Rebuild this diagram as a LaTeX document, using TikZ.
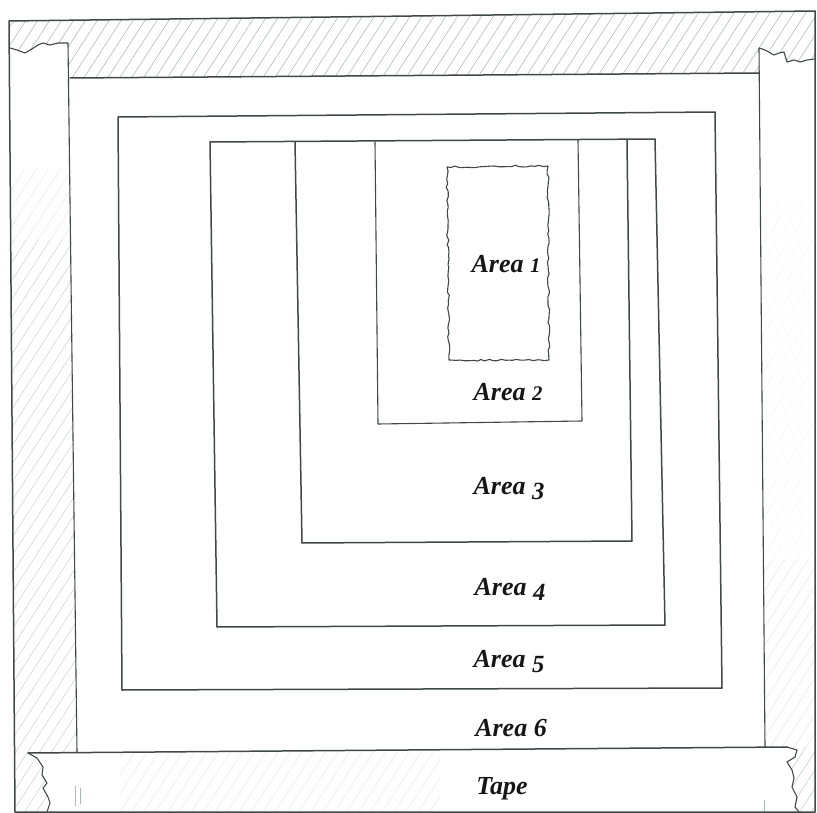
\documentclass[tikz,border=0pt]{standalone}
\usepackage{fontspec}
\newfontfamily\labfont{Liberation Serif}
\usetikzlibrary{patterns.meta,decorations.pathmorphing}
\definecolor{pencil}{HTML}{404848}
\definecolor{hatchc}{HTML}{AAB8B8}
\definecolor{inkc}{HTML}{161616}
% old-style figures built from the lining ones
\newcommand\dx[1]{\scalebox{0.8}{#1}}
\newcommand\dd[1]{\raisebox{-0.19em}{\scalebox{0.95}{#1}}}
\begin{document}
\begin{tikzpicture}[x=1pt,y=-1pt,
  pen/.style={draw=pencil, line width=1.5pt, line cap=round, line join=round},
  lightpen/.style={draw=pencil, line width=1.1pt, line cap=round, line join=round},
  hatch/.style={pattern={Lines[angle=57,distance=10pt,line width=0.55pt]}, pattern color=hatchc},
  lab/.style={text=inkc, font=\labfont\bfseries\itshape\fontsize{26}{29}\selectfont, inner sep=0pt},
  torn/.style={decorate, decoration={random steps, segment length=4pt, amplitude=1.1pt}}]
\useasboundingbox (0,0) rectangle (817,813);
\fill[white] (0,0) rectangle (817,813);

% ---- hatching of the tape ----
\fill[hatch] (9,21) -- (815,11) -- (815,59) -- (807,60) -- (800,62) -- (794,60) -- (787,62)
  -- (784,52) -- (779,53) -- (774,55) -- (765,50) -- (759,48) -- (759,73) -- (70,78)
  -- (68,43) -- (58,43) -- (50,45) -- (43,43) -- (38,45) -- (32,49) -- (25,53) -- (17,50) -- (10,48) -- cycle;
\fill[hatch, opacity=0.25] (10,170) rectangle (72,240);
\fill[hatch, opacity=0.6] (10,240) -- (72,240) -- (77,753) -- (28,753) -- (37,758) -- (43,767) -- (42,775)
  -- (47,783) -- (43,788) -- (48,797) -- (50,803) -- (47,812) -- (15,812) -- cycle;
\fill[hatch, opacity=0.12] (760,200) -- (815,200) -- (815,560) -- (763,560) -- cycle;
\fill[hatch, opacity=0.3] (763,560) -- (815,560) -- (815,747) -- (765,747) -- cycle;
\fill[hatch, opacity=0.7] (787,747) -- (815,747) -- (815,812) -- (799,812) -- (795,807) -- (797,797)
  -- (792,787) -- (794,778) -- (792,770) -- (787,762) -- (795,757) -- (797,750) -- cycle;
\fill[hatch, opacity=0.25] (120,753) -- (440,751) -- (440,812) -- (120,812) -- cycle;

% ---- outer frame ----
\draw[pen] (9,21) -- (815,11) -- (815,812) -- (15,812) -- cycle;
% top tape lower edge and strip edges
\draw[pen] (70,78) -- (759,73);
\draw[lightpen] (10,48) -- (17,50) -- (25,53) -- (32,49) -- (38,45) -- (43,43) -- (50,45) -- (58,43) -- (68,43)
  -- (77,752);
\draw[lightpen] (815,59) -- (807,60) -- (800,62) -- (794,60) -- (787,62) -- (784,52) -- (779,53)
  -- (774,55) -- (765,50) -- (759,48) -- (765,747);
% bottom tape
\draw[lightpen] (47,812) -- (50,803) -- (48,797) -- (43,788) -- (47,783) -- (42,775) -- (43,767)
  -- (37,758) -- (28,753);
\draw[pen] (28,753) -- (787,747);
\draw[lightpen] (787,747) -- (797,750) -- (795,757) -- (787,762) -- (792,770) -- (794,778)
  -- (792,787) -- (797,797) -- (795,807) -- (799,812);
\draw[draw=hatchc, line width=0.6pt] (75,786) -- (75,806) (80,788) -- (80,804) (764,800) -- (764,811);

% ---- nested areas ----
\draw[pen] (118,117) -- (715,112) -- (722,688) -- (122,690) -- cycle;
\draw[pen] (210,142) -- (655,139) -- (665,625) -- (217,627) -- cycle;
\draw[pen] (295,142) -- (302,543) -- (632,541) -- (627,140);
\draw[lightpen] (375,142) -- (378,424) -- (582,421) -- (578,140);
\draw[lightpen, torn] (447,167) -- (548,166) -- (549,360) -- (449,360) -- cycle;

% ---- labels ----
\node[lab] (a1) at (506,264) {Area \dx{1}};
\node[lab] (a2) at (508,392) {Area \dx{2}};
\node[lab] (a3) at (509,489) {Area \dd{3}};
\node[lab] (a4) at (510,589) {Area \dd{4}};
\node[lab] (a5) at (509,662) {Area \dd{5}};
\node[lab] (a6) at (511,728) {Area 6};
\node[lab] (tape) at (502,789) {Tape};
\end{tikzpicture}
\end{document}
